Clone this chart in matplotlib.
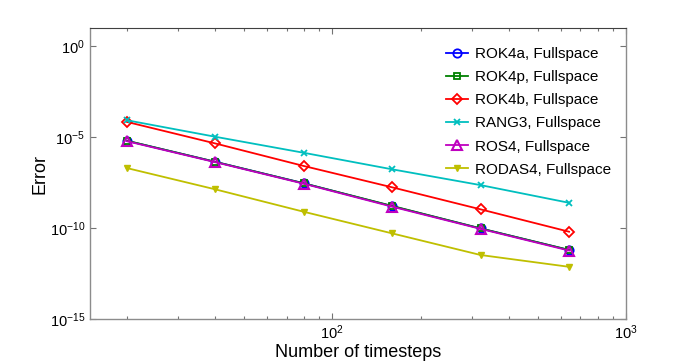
import matplotlib
matplotlib.use("Agg")
import matplotlib.pyplot as plt
from matplotlib.ticker import LogLocator, NullFormatter, FixedLocator, NullLocator

plt.rcParams['font.family'] = ['Liberation Sans', 'DejaVu Sans']
plt.rcParams['mathtext.fontset'] = 'custom'
plt.rcParams['mathtext.rm'] = 'Liberation Sans'
plt.rcParams['mathtext.it'] = 'Liberation Sans'

timesteps = [20, 40, 80, 160, 320, 640]
series_names = ["ROK4a, Fullspace", "ROK4p, Fullspace", "ROK4b, Fullspace",
                "RANG3, Fullspace", "ROS4, Fullspace", "RODAS4, Fullspace"]
rok4a = [6.3e-6, 4.4e-7, 2.9e-8, 1.6e-9, 9.5e-11, 6.2e-12]
rok4p = [6.4e-6, 4.4e-7, 2.9e-8, 1.65e-9, 9.6e-11, 6.3e-12]
rok4b = [6.9e-5, 4.5e-6, 2.6e-7, 1.74e-8, 1.07e-9, 6.3e-11]
rang3 = [8.5e-5, 1.05e-5, 1.38e-6, 1.7e-7, 2.3e-8, 2.45e-9]
ros4 = [6.0e-6, 4.2e-7, 2.75e-8, 1.5e-9, 9.0e-11, 5.8e-12]
rodas4 = [2.0e-7, 1.35e-8, 7.9e-10, 5.1e-11, 3.3e-12, 7.4e-13]

styles = [
    dict(color=(0, 0, 1), marker='o', ms=6, mfc='none', mew=1.3),
    dict(color=(0, 0.5, 0), marker='s', ms=4.5, mfc='none', mew=1.3),
    dict(color=(1, 0, 0), marker='D', ms=5.5, mfc='none', mew=1.3),
    dict(color=(0, 0.75, 0.75), marker='x', ms=4.5, mew=1.3),
    dict(color=(0.75, 0, 0.75), marker='^', ms=6.5, mfc='none', mew=1.5),
    dict(color=(0.75, 0.75, 0), marker='v', ms=5, mfc=(0.75, 0.75, 0), mew=1.0),
]
data = [rok4a, rok4p, rok4b, rang3, ros4, rodas4]

fig = plt.figure(figsize=(6.92, 3.62), dpi=100)
ax = fig.add_axes([90/692, 1-319/362, (626-90)/692, (319-28)/362])

for name, vals, st in zip(series_names, data, styles):
    ax.plot(timesteps, vals, lw=1.3, label=name, **st)

ax.set_xscale('log')
ax.set_yscale('log')
ax.set_xlim(15, 1000)
ax.set_ylim(1e-15, 1e1)
ax.yaxis.set_major_locator(FixedLocator([1e-15, 1e-10, 1e-5, 1e0]))
ax.yaxis.set_minor_locator(NullLocator())
ax.xaxis.set_major_locator(FixedLocator([1e2, 1e3]))
ax.xaxis.set_minor_locator(LogLocator(base=10, subs=range(2, 10)))
ax.xaxis.set_minor_formatter(NullFormatter())

ax.tick_params(which='both', direction='in', top=True, right=True,
               colors='0.45', labelcolor='black', labelsize=10.5)
ax.tick_params(which='major', length=4.3, width=0.8)
ax.tick_params(which='minor', length=2.2, width=0.8)
for side in ['left', 'bottom', 'right']:
    ax.spines[side].set_color('0.55')
    ax.spines[side].set_linewidth(1.0)
ax.spines['top'].set_color('0.25')
ax.spines['top'].set_linewidth(0.8)

ax.set_xlabel('Number of timesteps', fontsize=13, labelpad=1)
ax.set_ylabel('Error', fontsize=13, labelpad=1)

leg = ax.legend(loc='upper left', bbox_to_anchor=(446/692, 1-47/362),
                bbox_transform=fig.transFigure, frameon=False, fontsize=11,
                handlelength=1.45, handletextpad=0.45, labelspacing=0.6,
                borderpad=0, borderaxespad=0)

fig.savefig('out.png', dpi=100)
